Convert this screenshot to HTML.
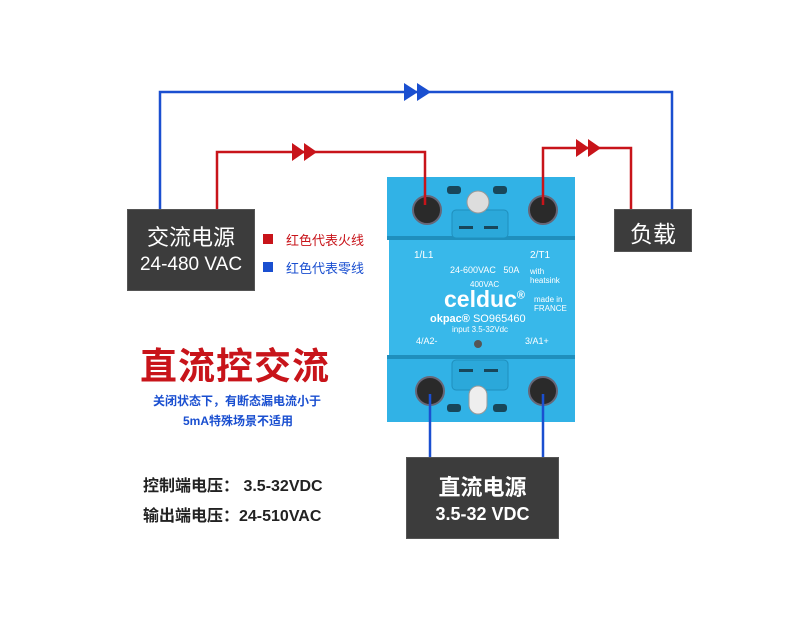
<!DOCTYPE html>
<html><head><meta charset="utf-8"><style>
body{margin:0;width:800px;height:642px;background:#fff;overflow:hidden;position:relative;font-family:"Liberation Sans","Noto Sans CJK SC",sans-serif}
.box{position:absolute;background:#3c3c3c;color:#fff;text-align:center;border:1px solid #555}
.t{position:absolute;white-space:nowrap}
</style></head><body>
<svg width="800" height="642" style="position:absolute;left:0;top:0">
<rect x="387" y="177" width="188" height="62" fill="#31b2e6"/>
<rect x="389" y="238" width="186" height="120" fill="#38b8ea"/>
<rect x="387" y="357" width="188" height="65" fill="#31b2e6"/>
<rect x="387" y="236" width="188" height="4" fill="#1f8fbd"/>
<rect x="387" y="355" width="188" height="4" fill="#1f8fbd"/>
<rect x="452" y="210" width="56" height="28" rx="4" fill="#2ba8da" stroke="#1f8fbd"/>
<rect x="452" y="360" width="56" height="30" rx="4" fill="#2ba8da" stroke="#1f8fbd"/>
<rect x="447" y="186" width="14" height="8" rx="3" fill="#18465a"/>
<rect x="493" y="186" width="14" height="8" rx="3" fill="#18465a"/>
<rect x="447" y="404" width="14" height="8" rx="3" fill="#18465a"/>
<rect x="493" y="404" width="14" height="8" rx="3" fill="#18465a"/>
<circle cx="478" cy="202" r="11" fill="#ddd" stroke="#999"/>
<rect x="469" y="386" width="18" height="28" rx="9" fill="#eee" stroke="#999"/>
<rect x="459" y="226" width="14" height="3" fill="#18465a"/><rect x="484" y="226" width="14" height="3" fill="#18465a"/>
<rect x="459" y="369" width="14" height="3" fill="#18465a"/><rect x="484" y="369" width="14" height="3" fill="#18465a"/>
<g fill="#2a2a2a" stroke="#667" stroke-width="2">
<circle cx="427" cy="210" r="14"/><circle cx="543" cy="210" r="14"/>
<circle cx="430" cy="391" r="14"/><circle cx="543" cy="391" r="14"/></g>
<circle cx="478" cy="344" r="4" fill="#555"/>
<g fill="none" stroke-width="2.5">
<polyline points="160,210 160,92 672,92 672,210" stroke="#1a4fd0"/>
<polyline points="217,210 217,152 425,152 425,205" stroke="#c8141a"/>
<polyline points="543,205 543,148 631,148 631,210" stroke="#c8141a"/>
<polyline points="430,394 430,457" stroke="#1a4fd0"/>
<polyline points="543,394 543,457" stroke="#1a4fd0"/>
</g>
<g fill="#1a4fd0"><polygon points="404,83 418,92 404,101"/><polygon points="417,83 431,92 417,101"/></g>
<g fill="#c8141a"><polygon points="292,143 305,152 292,161"/><polygon points="304,143 317,152 304,161"/>
<polygon points="576,139 589,148 576,157"/><polygon points="588,139 601,148 588,157"/></g>
<rect x="263" y="234" width="10" height="10" fill="#c8141a"/>
<rect x="263" y="262" width="10" height="10" fill="#1a4fd0"/>
</svg>
<div class="t" style="left:414px;top:250px;font-size:10px;color:#fff">1/L1</div>
<div class="t" style="left:530px;top:250px;font-size:10px;color:#fff">2/T1</div>
<div class="t" style="left:450px;top:265px;font-size:9px;color:#fff">24-600VAC &nbsp; 50A</div>
<div class="t" style="left:530px;top:267px;font-size:8px;color:#fff;line-height:9px">with<br>heatsink</div>
<div class="t" style="left:470px;top:280px;font-size:8px;color:#fff">400VAC</div>
<div class="t" style="left:444px;top:286px;font-size:23px;font-weight:bold;color:#fff">celduc<sup style="font-size:11px">®</sup></div>
<div class="t" style="left:534px;top:295px;font-size:8px;color:#fff;line-height:9px">made in<br>FRANCE</div>
<div class="t" style="left:430px;top:313px;font-size:11px;color:#fff"><b>okpac®</b> SO965460</div>
<div class="t" style="left:452px;top:325px;font-size:8px;color:#fff">input 3.5-32Vdc</div>
<div class="t" style="left:416px;top:336px;font-size:9px;color:#fff">4/A2-</div>
<div class="t" style="left:525px;top:336px;font-size:9px;color:#fff">3/A1+</div>
<div class="box" style="left:127px;top:209px;width:126px;height:80px"><div style="font-size:22px;margin-top:10px">交流电源</div><div style="font-size:19px;margin-top:2px">24-480 VAC</div></div>
<div class="box" style="left:614px;top:209px;width:76px;height:41px"><div style="font-size:23px;margin-top:5px">负载</div></div>
<div class="box" style="left:406px;top:457px;width:151px;height:80px"><div style="font-size:22px;font-weight:bold;margin-top:12px">直流电源</div><div style="font-size:18px;font-weight:bold;margin-top:2px">3.5-32 VDC</div></div>
<div class="t" style="left:286px;top:230px;font-size:13px;color:#c8141a">红色代表火线</div>
<div class="t" style="left:286px;top:258px;font-size:13px;color:#1a4fd0">红色代表零线</div>
<div class="t" style="left:140px;top:336px;font-size:37px;font-weight:bold;color:#c8141a;letter-spacing:1px">直流控交流</div>
<div class="t" style="left:153px;top:392px;font-size:12px;font-weight:bold;color:#1a4fd0">关闭状态下，有断态漏电流小于</div>
<div class="t" style="left:183px;top:412px;font-size:12px;font-weight:bold;color:#1a4fd0">5mA特殊场景不适用</div>
<div class="t" style="left:143px;top:472px;font-size:16px;font-weight:bold;color:#222">控制端电压：&nbsp;3.5-32VDC</div>
<div class="t" style="left:143px;top:502px;font-size:16px;font-weight:bold;color:#222">输出端电压：24-510VAC</div>
</body></html>
